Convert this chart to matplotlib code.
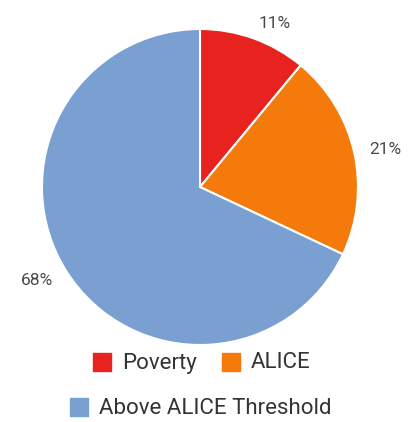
import matplotlib
matplotlib.use('Agg')
import matplotlib.pyplot as plt
from matplotlib.patches import Rectangle

# Share of households by income status.
labels = ['Poverty', 'ALICE', 'Above ALICE Threshold']
shares = [11, 21, 68]
colors = ['#e8231f', '#f47b0b', '#7a9fd1']

plt.rcParams['font.family'] = ['Roboto', 'DejaVu Sans']

fig = plt.figure(figsize=(4.16, 4.22), dpi=100)
W, H = 416, 422

# Pie centred at (200, 187) px with radius 158 px.
cx, cy, r = 200, 187, 158
ax = fig.add_axes([(cx - r) / W, (H - cy - r) / H, 2 * r / W, 2 * r / H])
wedges, texts = ax.pie(shares, colors=colors, startangle=90, counterclock=False,
                       labels=[f'{s}%' for s in shares], labeldistance=1.1,
                       wedgeprops=dict(edgecolor='white', linewidth=1.5),
                       textprops=dict(color='#4a4a4a', fontsize=12.5))
for t in texts:
    t.set_clip_on(False)
ax.set_xlim(-1, 1)
ax.set_ylim(-1, 1)

# Legend drawn by hand in pixel coordinates.
lg = fig.add_axes([0, 0, 1, 1], zorder=-1)
lg.set_xlim(0, W)
lg.set_ylim(H, 0)
lg.axis('off')
rows = [[(0, 93), (1, 222)], [(2, 70)]]
row_y = [362, 407]
for row, y in zip(rows, row_y):
    for i, x in row:
        lg.add_patch(Rectangle((x, y - 9), 18, 18, color=colors[i]))
        lg.text(x + 29, y + 1, labels[i], fontsize=16, color='#333333',
                va='center', ha='left')

fig.savefig('out.png', dpi=100)
